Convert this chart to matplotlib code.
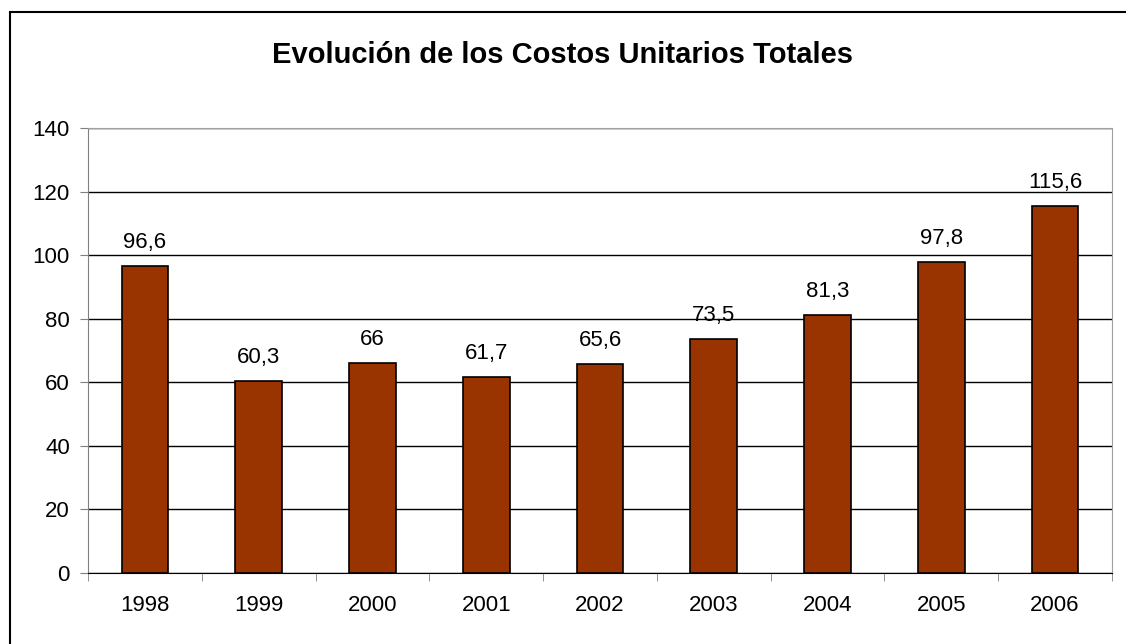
import matplotlib.pyplot as plt
from matplotlib.patches import Rectangle

years = ["1998", "1999", "2000", "2001", "2002", "2003", "2004", "2005", "2006"]
costs = [96.6, 60.3, 66, 61.7, 65.6, 73.5, 81.3, 97.8, 115.6]
labels = ["96,6", "60,3", "66", "61,7", "65,6", "73,5", "81,3", "97,8", "115,6"]

plt.rcParams["font.family"] = ["Liberation Sans", "DejaVu Sans"]

W, H = 1126, 644
fig = plt.figure(figsize=(W / 100, H / 100), dpi=100)
ax = fig.add_axes([88 / W, 1 - 573 / H, (1112 - 88) / W, (573 - 128) / H])

x = list(range(len(years)))
ax.bar(x, costs, width=0.41, color="#993300", edgecolor="black", linewidth=1.2, zorder=3)
for xi, v, lab in zip(x, costs, labels):
    ax.annotate(lab, (xi, v), xytext=(0, 13), textcoords="offset points",
                ha="center", va="baseline", fontsize=16)

ax.set_xlim(-0.5, len(years) - 0.5)
ax.set_ylim(0, 140)
ax.set_yticks(range(0, 141, 20))
ax.set_xticks(x)
ax.set_xticklabels(years)
ax.set_xticks([i - 0.5 for i in range(len(years) + 1)], minor=True)
ax.tick_params(axis="x", which="major", length=0, pad=16, labelsize=16)
ax.tick_params(axis="x", which="minor", length=6, color="#808080")
ax.tick_params(axis="y", length=6, pad=7, labelsize=16, color="#808080")
ax.yaxis.grid(True, color="black", linewidth=1)
ax.set_axisbelow(True)
for side in ["top", "right"]:
    ax.spines[side].set_color("#a0a0a0")
ax.spines["left"].set_color("#808080")
ax.spines["bottom"].set_color("black")

fig.text(0.5, 1 - 55 / H, "Evolución de los Costos Unitarios Totales",
         ha="center", va="center", fontsize=21, fontweight="bold")

# outer frame around the whole chart
fig.patches.append(Rectangle((10 / W, -0.1), 1.2, 1 - 12 / H + 0.1,
                             transform=fig.transFigure, fill=False,
                             edgecolor="black", linewidth=1.5))

fig.savefig("out.png", dpi=100)
